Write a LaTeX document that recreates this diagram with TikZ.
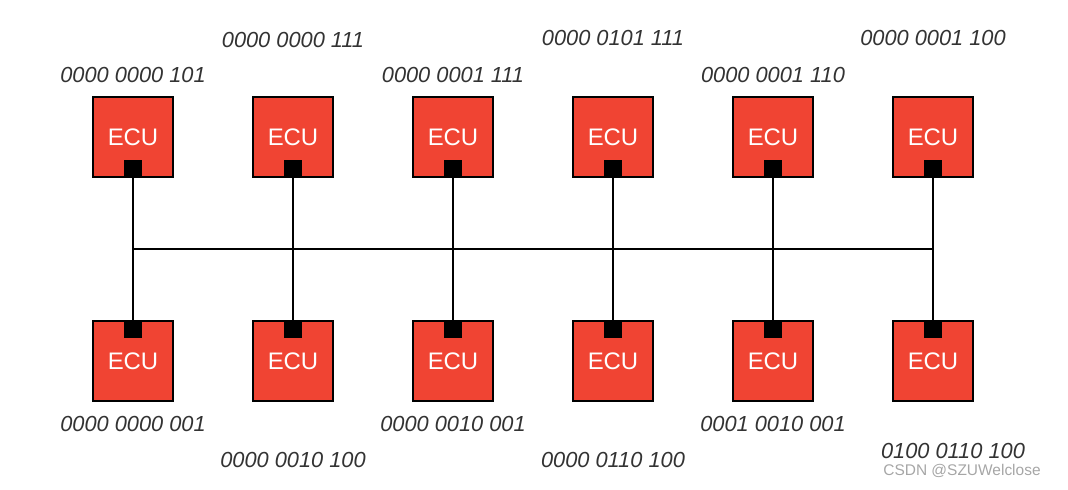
\documentclass[tikz,border=0pt]{standalone}
\usepackage{fontspec}
\setmainfont{Liberation Sans}
\definecolor{ecured}{HTML}{F04433}
\definecolor{idgray}{HTML}{333333}
\tikzset{
  ecu/.style={draw=black, line width=1.2pt, fill=ecured, minimum size=80*0.025cm, inner sep=0pt, text=white, font=\fontsize{17}{19}\selectfont},
  port/.style={fill=black, minimum width=18*0.025cm, minimum height=17*0.025cm, inner sep=0pt},
  canid/.style={text=idgray, font=\fontsize{15.5}{18}\selectfont\itshape},
  bus/.style={line width=1.5pt}
}
\begin{document}
\begin{tikzpicture}[x=0.025cm, y=-0.025cm]
    \useasboundingbox (0,0) rectangle (1068,489);
    % top row
    \foreach \i/\x in {1/133, 2/293, 3/453, 4/613, 5/773, 6/933} {
      \node[ecu] (T\i) at (\x, 137) {ECU};
      \node[port] (TP\i) at (\x, 168.5) {};
      \node[ecu] (B\i) at (\x, 361) {ECU};
      \node[port] (BP\i) at (\x, 329.5) {};
      \coordinate (J\i) at (\x, 249);
    }
    \draw[bus] (J1) -- (J6);
    \foreach \i in {1,...,6} {
      \draw[bus] (TP\i.center) -- (J\i) -- (BP\i.center);
    }
    % identifiers
    \node[canid] (L1) at (133, 75) {0000 0000 101};
    \node[canid] (L2) at (293, 40) {0000 0000 111};
    \node[canid] (L3) at (453, 75) {0000 0001 111};
    \node[canid] (L4) at (613, 38) {0000 0101 111};
    \node[canid] (L5) at (773, 75) {0000 0001 110};
    \node[canid] (L6) at (933, 38) {0000 0001 100};
    \node[canid] (M1) at (133, 424) {0000 0000 001};
    \node[canid] (M2) at (293, 460) {0000 0010 100};
    \node[canid] (M3) at (453, 424) {0000 0010 001};
    \node[canid] (M4) at (613, 460) {0000 0110 100};
    \node[canid] (M5) at (773, 424) {0001 0010 001};
    \node[canid] (M6) at (953, 451) {0100 0110 100};
    \node[text=gray!70, font=\fontsize{11}{13}\selectfont] (wm) at (962, 471) {CSDN @SZUWelclose};
\end{tikzpicture}
\end{document}
